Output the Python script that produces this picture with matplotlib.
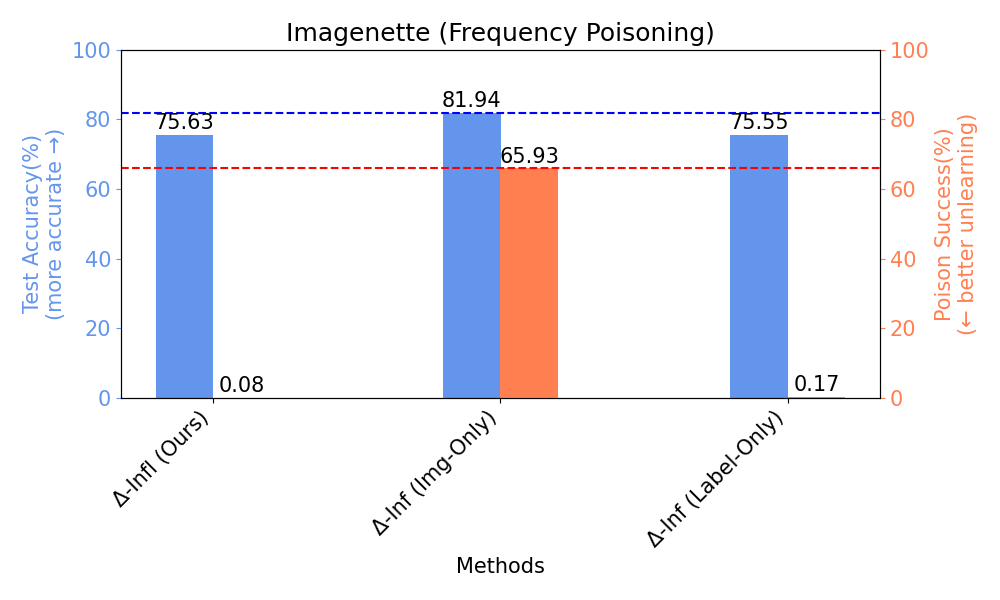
import matplotlib
matplotlib.use("Agg")
import matplotlib.pyplot as plt
import numpy as np

methods = ["Δ-Infl (Ours)", "Δ-Inf (Img-Only)", "Δ-Inf (Label-Only)"]
test_acc = [75.63, 81.94, 75.55]
poison = [0.08, 65.93, 0.17]

blue = "#6495ED"
orange = "#FF7F50"
fig, ax = plt.subplots(figsize=(10, 6), dpi=100)
ax2 = ax.twinx()
x = np.arange(len(methods))
w = 0.2
b1 = ax.bar(x - w/2, test_acc, w, color=blue)
b2 = ax2.bar(x + w/2, poison, w, color=orange)
for r, v in zip(b1, test_acc):
    ax.text(r.get_x() + r.get_width()/2, v + 0.5, f"{v:.2f}", ha="center", va="bottom", fontsize=15)
for r, v in zip(b2, poison):
    ax2.text(r.get_x() + r.get_width()/2, v + 0.5, f"{v:.2f}", ha="center", va="bottom", fontsize=15)
ax.axhline(max(test_acc), color="blue", linestyle="--")
ax2.axhline(max(poison), color="red", linestyle="--")
ax.set_ylim(0, 100)
ax2.set_ylim(0, 100)
ax.set_xticks(x)
ax.set_xticklabels(methods, rotation=45, ha="right", fontsize=15)
ax.set_xlabel("Methods", fontsize=15)
ax.set_ylabel("Test Accuracy(%)\n(more accurate →)", color=blue, fontsize=15)
ax2.set_ylabel("Poison Success(%)\n(← better unlearning)", color=orange, fontsize=15)
ax.tick_params(axis="y", colors=blue, labelsize=15)
ax2.tick_params(axis="y", colors=orange, labelsize=15)
ax.set_title("Imagenette (Frequency Poisoning)", fontsize=18)
fig.subplots_adjust(left=0.121, right=0.88, top=0.917, bottom=0.337)
fig.savefig("out.png", dpi=100)
